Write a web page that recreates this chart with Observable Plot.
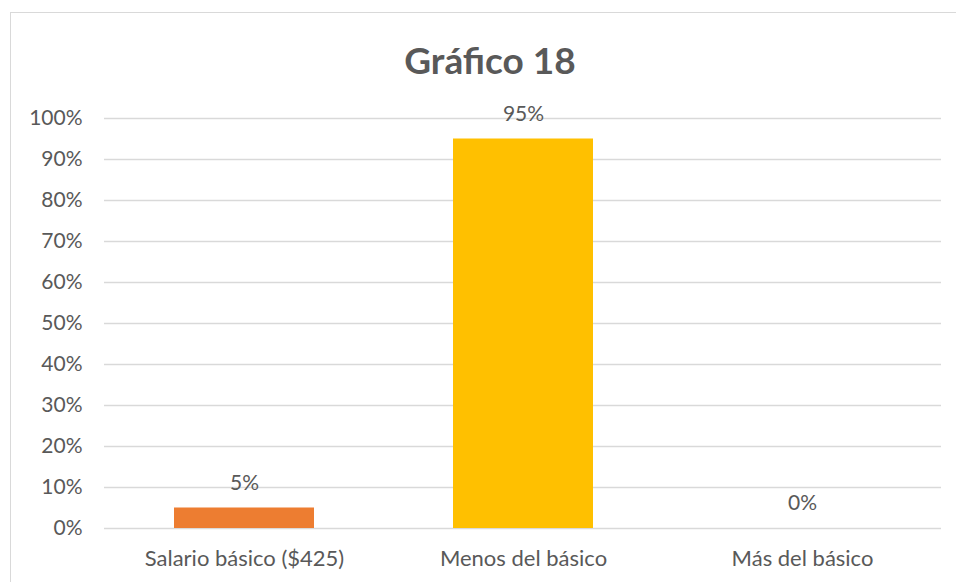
<!DOCTYPE html>
<html>
<head>
<meta charset="utf-8">
<script src="https://cdn.jsdelivr.net/npm/d3@7"></script>
<script src="https://cdn.jsdelivr.net/npm/@observablehq/plot@0.6"></script>
<style>
  html, body { margin: 0; padding: 0; background: #fff; }
  #wrap { position: relative; width: 956px; height: 582px; overflow: hidden; font-family: Lato, "Open Sans", sans-serif; }
  #frame { position: absolute; left: 10px; top: 12px; width: 960px; height: 600px; border: 1.5px solid #d9d9d9; box-sizing: border-box; }
  #title { position: absolute; left: 0; width: 980px; top: 36px; text-align: center; font-size: 37px; font-weight: bold; color: #595959; line-height: 48px; }
  #chart { position: absolute; left: 0; top: 0; }
</style>
</head>
<body>
<div id="wrap">
  <div id="frame"></div>
  <div id="chart"></div>
  <div id="title">Gráfico 18</div>
</div>
<script>
const categories = ["Salario básico ($425)", "Menos del básico", "Más del básico"];
const values = [0.05, 0.95, 0.00];
const barColors = ["#ED7D31", "#FFC000", "#A5A5A5"];
const labels = ["5%", "95%", "0%"];
const yTicks = [0, 0.1, 0.2, 0.3, 0.4, 0.5, 0.6, 0.7, 0.8, 0.9, 1.0];

const data = categories.map((c, i) => ({category: c, value: values[i], color: barColors[i], label: labels[i]}));

const chart = Plot.plot({
  width: 956,
  height: 582,
  marginTop: 118,
  marginBottom: 54,
  marginLeft: 104,
  marginRight: 15,
  style: {fontFamily: "Lato, 'Open Sans', sans-serif", fontSize: "21px", color: "#595959", background: "transparent"},
  x: {domain: categories, paddingInner: 0.5, paddingOuter: 0.25, label: null},
  y: {domain: [0, 1], label: null},
  marks: [
    Plot.gridY(yTicks, {stroke: "#d9d9d9", strokeOpacity: 1, strokeWidth: 1.5}),
    Plot.barY(data, {x: "category", y: "value", fill: "color"}),
    Plot.text(data, {x: "category", y: "value", text: "label", dy: -25, fill: "#595959", fontSize: 21}),
    Plot.axisY({ticks: yTicks, tickFormat: d => Math.round(d * 100) + "%", tickSize: 0, tickPadding: 22, fill: "#595959", fontSize: 21, label: null}),
    Plot.axisX({tickSize: 0, tickPadding: 22, fill: "#595959", fontSize: 22, label: null})
  ]
});
document.getElementById("chart").appendChild(chart);
</script>
</body>
</html>
